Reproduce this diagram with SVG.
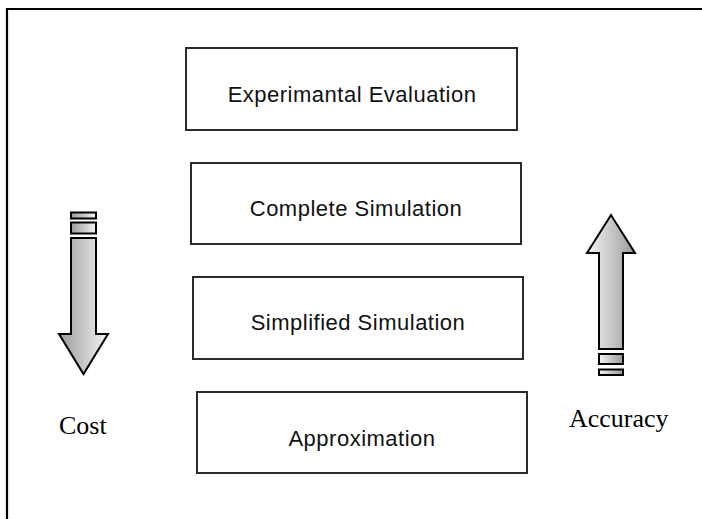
<svg xmlns="http://www.w3.org/2000/svg" width="702" height="519" viewBox="0 0 702 519">
<defs>
<linearGradient id="gDown" x1="0" y1="0" x2="1" y2="0">
<stop offset="0" stop-color="#9a9a9a"/>
<stop offset="1" stop-color="#f4f4f4"/>
</linearGradient>
<linearGradient id="gUp" x1="0" y1="0" x2="1" y2="0">
<stop offset="0" stop-color="#f4f4f4"/>
<stop offset="1" stop-color="#9a9a9a"/>
</linearGradient>
</defs>
<style>
.box{fill:#fff;stroke:#2a2a2a;stroke-width:2}
.bt{font-family:"Liberation Sans",Arial,sans-serif;font-size:22px;letter-spacing:0.5px;fill:#111;text-anchor:middle}
.lbl{font-family:"Liberation Serif","Times New Roman",serif;font-size:26px;fill:#000}
.arr{stroke:#000;stroke-width:2;stroke-linejoin:miter}
</style>
<rect width="702" height="519" fill="#fff"/>
<path d="M7,519 V9 H702" fill="none" stroke="#000" stroke-width="2.2"/>
<g id="experimental">
<rect class="box" x="186" y="48" width="331" height="82"/>
<text class="bt" x="352" y="102">Experimantal Evaluation</text>
</g>
<g id="complete">
<rect class="box" x="191" y="163" width="330" height="81"/>
<text class="bt" x="356" y="216">Complete Simulation</text>
</g>
<g id="simplified">
<rect class="box" x="193" y="277" width="330" height="82"/>
<text class="bt" x="358" y="330">Simplified Simulation</text>
</g>
<g id="approximation">
<rect class="box" x="197" y="392" width="330" height="81"/>
<text class="bt" x="362" y="446">Approximation</text>
</g>
<g id="cost-arrow">
<rect class="arr" x="71" y="212.5" width="25" height="6" fill="url(#gDown)"/>
<rect class="arr" x="71" y="222.5" width="25" height="11" fill="url(#gDown)"/>
<path class="arr" d="M71,238 H96 V334 H108 L83.5,374 L59,334 H71 Z" fill="url(#gDown)"/>
<text class="lbl" x="59" y="434">Cost</text>
</g>
<g id="accuracy-arrow">
<path class="arr" d="M599,349 V253 H587 L611,215 L635,253 H623 V349 Z" fill="url(#gUp)"/>
<rect class="arr" x="599" y="354" width="24" height="10" fill="url(#gUp)"/>
<rect class="arr" x="599" y="369.5" width="24" height="5.5" fill="url(#gUp)"/>
<text class="lbl" x="569" y="427">Accuracy</text>
</g>
</svg>
